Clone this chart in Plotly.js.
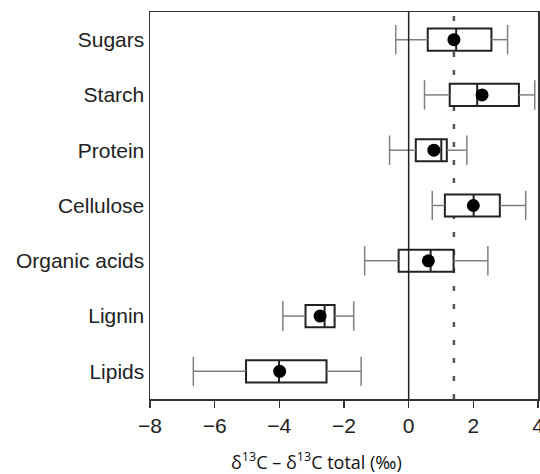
<!DOCTYPE html>
<html>
<head>
<meta charset="utf-8">
<script src="https://cdn.plot.ly/plotly-3.0.1.min.js"></script>
<style>html,body{margin:0;padding:0;background:#fff;}#chart{width:540px;height:474px;}</style>
</head>
<body>
<div id="chart"></div>
<script>
// Data
var categories = ["Sugars", "Starch", "Protein", "Cellulose", "Organic acids", "Lignin", "Lipids"];
var whiskerLow  = [-0.40, 0.49, -0.59, 0.73, -1.36, -3.89, -6.66];
var q1Values    = [ 0.59, 1.27,  0.22, 1.12, -0.31, -3.19, -5.03];
var medianVals  = [ 1.47, 2.12,  1.01, 2.01,  0.68, -2.60, -4.01];
var q3Values    = [ 2.56, 3.41,  1.18, 2.82,  1.39, -2.29, -2.54];
var whiskerHigh = [ 3.06, 3.90,  1.80, 3.62,  2.45, -1.70, -1.47];
var meanValues  = [ 1.40, 2.27,  0.78, 2.00,  0.61, -2.74, -3.99];
var referenceLine = 1.4;
var zeroLine = 0;
var xTicks = [-8, -6, -4, -2, 0, 2, 4];

// Whisker segments built from the data
var wx = [], wy = [], capX = [], capY = [];
for (var i = 0; i < categories.length; i++) {
  wx.push(whiskerLow[i], q1Values[i], null, q3Values[i], whiskerHigh[i], null);
  wy.push(categories[i], categories[i], null, categories[i], categories[i], null);
  capX.push(whiskerLow[i], whiskerHigh[i]);
  capY.push(categories[i], categories[i]);
}

var traces = [
  {
    type: "box", orientation: "h",
    y: categories,
    q1: q1Values, median: medianVals, q3: q3Values,
    lowerfence: q1Values, upperfence: q3Values,
    width: 0.4,
    fillcolor: "#ffffff",
    line: {color: "#222222", width: 2},
    hoverinfo: "skip", showlegend: false
  },
  {
    type: "scatter", mode: "lines",
    x: wx, y: wy,
    line: {color: "#808080", width: 1.5},
    hoverinfo: "skip", showlegend: false
  },
  {
    type: "scatter", mode: "markers",
    x: capX, y: capY,
    marker: {symbol: "line-ns-open", size: 21, color: "#808080", line: {color: "#808080", width: 1.5}},
    hoverinfo: "skip", showlegend: false
  },
  {
    type: "scatter", mode: "markers",
    x: meanValues, y: categories,
    marker: {symbol: "circle", size: 13, color: "#000000"},
    hoverinfo: "skip", showlegend: false
  }
];

var layout = {
  width: 540, height: 474,
  margin: {l: 150, r: 2, t: 12, b: 75},
  paper_bgcolor: "#ffffff", plot_bgcolor: "#ffffff",
  font: {family: "'Liberation Sans', Arial, sans-serif", size: 21, color: "#222222"},
  showlegend: false,
  xaxis: {
    range: [-8, 4.0005], tickvals: xTicks,
    ticks: "outside", ticklen: 7, tickwidth: 1.5, tickcolor: "#333333",
    ticklabeloverflow: "allow",
    showline: true, mirror: true, linecolor: "#333333", linewidth: 1.5,
    showgrid: false, zeroline: false,
    tickfont: {size: 21, color: "#222222"}
  },
  yaxis: {
    type: "category", categoryorder: "array",
    categoryarray: categories.slice().reverse(),
    range: [-0.5, 6.5],
    showline: true, mirror: true, linecolor: "#333333", linewidth: 1.5,
    showgrid: false, zeroline: false, ticks: "",
    tickfont: {size: 21, color: "#222222"}
  },
  shapes: [
    {type: "line", xref: "x", yref: "paper", x0: referenceLine, x1: referenceLine, y0: 0, y1: 1,
     line: {color: "#555555", width: 2.5, dash: "5px,13px"}, layer: "below"},
    {type: "line", xref: "x", yref: "paper", x0: zeroLine, x1: zeroLine, y0: 0, y1: 1,
     line: {color: "#222222", width: 1.5}, layer: "above"}
  ],
  annotations: [
    {text: "\u03b4<sup>13</sup>C \u2013 \u03b4<sup>13</sup>C total (\u2030)",
     xref: "paper", yref: "paper", x: 0.43, y: -0.16, xanchor: "center", yanchor: "middle",
     showarrow: false, font: {family: "'Open Sans', 'Liberation Sans', sans-serif", size: 18, color: "#111111"}}
  ]
};

Plotly.newPlot("chart", traces, layout, {displayModeBar: false, staticPlot: true});
</script>
</body>
</html>
